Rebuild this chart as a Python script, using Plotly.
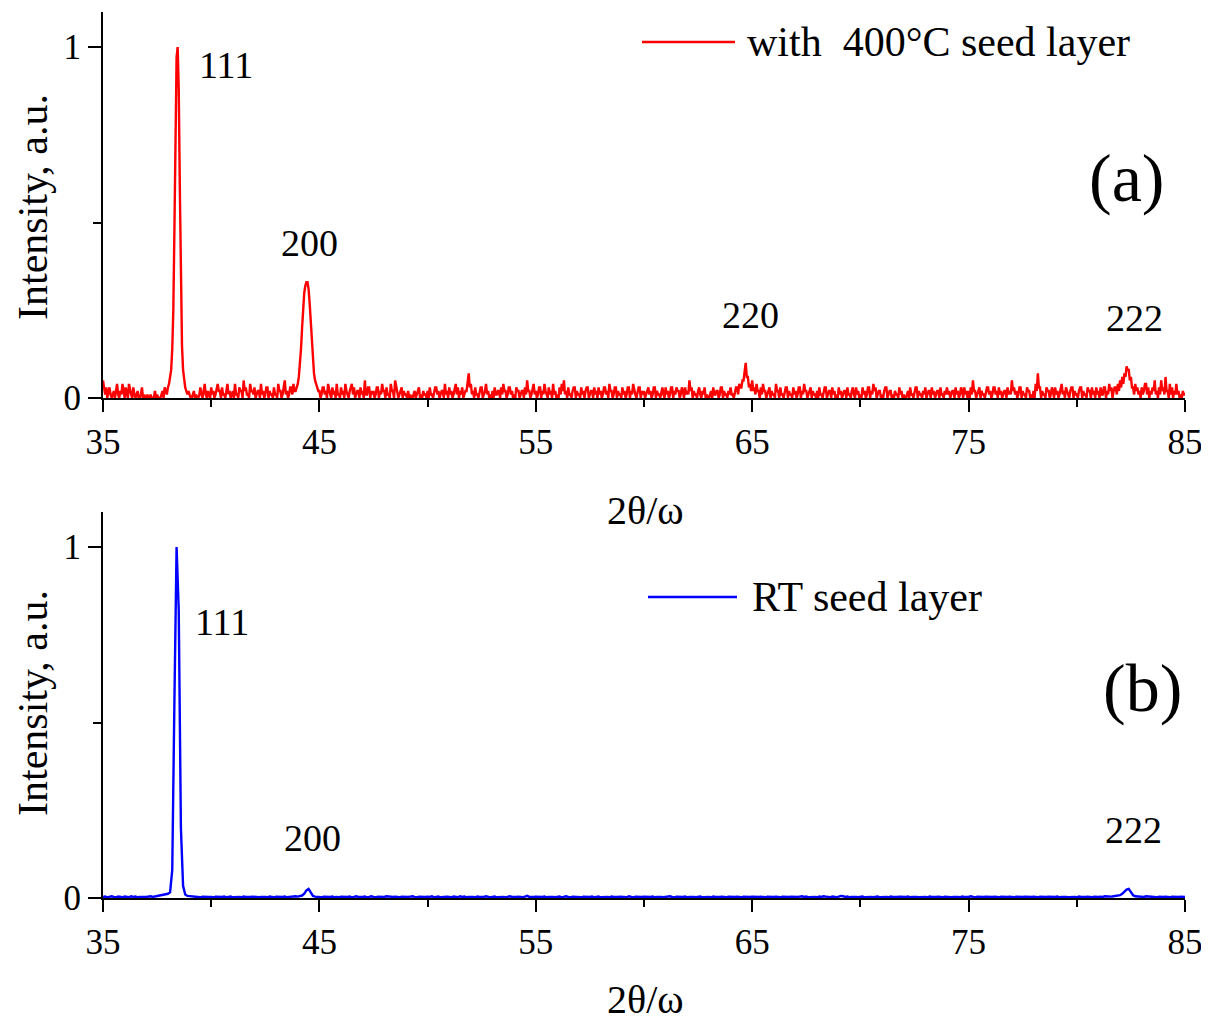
import numpy as np
import plotly.graph_objects as go
from plotly.subplots import make_subplots

# ---------------- data ----------------
# (a) with 400 C seed layer: scan 35.00-85.00 deg, step 0.05 deg,
# normalised intensity in hundredths (one row = one degree, 20 points)
RED_START, RED_STEP = 35.0, 0.05
red_intensity_pct = [
    5, 2, 1, 3, 0, 2, 3, 1, 0, 1, 2, 0, 3, 4, 1, 0, 2, 1, 4, 1,          # 35
    0, 3, 1, 0, 4, 2, 1, 0, 3, 1, 0, 1, 2, 0, 0, 1, 3, 0, 1, 0,          # 36
    0, 1, 0, 0, 1, 0, 0, 0, 2, 0, 1, 0, 0, 0, 1, 2, 0, 3, 2, 1,          # 37
    3, 4, 6, 8, 14, 25, 48, 78, 97, 100, 88, 60, 32, 15, 8, 5, 3, 2, 1, 2,  # 38
    1, 0, 0, 1, 2, 0, 1, 0, 0, 1, 3, 1, 0, 2, 4, 1, 0, 2, 1, 0,          # 39
    3, 1, 2, 0, 1, 3, 4, 2, 2, 0, 3, 1, 1, 0, 3, 4, 1, 2, 0, 1,          # 40
    2, 0, 4, 1, 1, 0, 3, 2, 2, 0, 5, 2, 3, 1, 1, 0, 4, 2, 2, 1,          # 41
    3, 0, 1, 2, 2, 0, 4, 1, 2, 0, 1, 3, 3, 0, 2, 1, 1, 0, 3, 1,          # 42
    1, 0, 4, 2, 2, 0, 1, 3, 5, 1, 2, 0, 1, 3, 3, 1, 4, 2, 2, 3,          # 43
    4, 6, 9, 14, 20, 26, 30, 32, 33, 33, 31, 27, 21, 15, 10, 7, 5, 4, 3, 2,  # 44
    2, 0, 1, 3, 3, 1, 2, 0, 4, 2, 1, 0, 3, 1, 2, 0, 4, 1, 1, 0,          # 45
    3, 1, 2, 0, 4, 2, 1, 0, 2, 3, 4, 1, 3, 0, 1, 2, 2, 0, 3, 1,          # 46
    2, 0, 5, 1, 1, 3, 3, 0, 2, 1, 2, 0, 1, 3, 3, 0, 2, 1, 4, 2,          # 47
    2, 0, 3, 1, 1, 0, 4, 2, 2, 0, 5, 3, 2, 0, 1, 2, 3, 0, 2, 1,          # 48
    1, 0, 2, 0, 1, 0, 0, 1, 2, 0, 1, 2, 3, 0, 1, 0, 2, 1, 1, 0,          # 49
    2, 0, 3, 1, 1, 0, 2, 3, 3, 1, 2, 0, 1, 2, 2, 0, 4, 1, 2, 0,          # 50
    3, 1, 2, 0, 1, 3, 4, 1, 3, 0, 2, 1, 3, 0, 1, 2, 2, 5, 7, 3,          # 51
    4, 1, 2, 0, 3, 1, 1, 0, 2, 3, 3, 0, 1, 2, 4, 1, 2, 0, 1, 0,          # 52
    2, 0, 3, 1, 1, 2, 2, 0, 3, 1, 4, 2, 2, 0, 1, 3, 3, 1, 2, 0,          # 53
    1, 0, 3, 2, 2, 0, 1, 2, 2, 0, 3, 1, 5, 2, 2, 0, 1, 3, 4, 1,          # 54
    2, 0, 1, 3, 3, 0, 2, 1, 4, 2, 1, 0, 3, 1, 2, 0, 4, 1, 2, 0,          # 55
    1, 0, 3, 1, 4, 2, 5, 1, 2, 0, 3, 1, 1, 0, 2, 3, 3, 0, 2, 1,          # 56
    1, 0, 3, 1, 2, 0, 2, 3, 3, 0, 1, 2, 2, 0, 3, 1, 2, 0, 3, 1,          # 57
    2, 0, 1, 3, 3, 1, 2, 0, 4, 2, 2, 0, 1, 3, 3, 0, 2, 1, 1, 0,          # 58
    3, 1, 2, 0, 1, 3, 3, 0, 2, 1, 4, 2, 1, 0, 2, 3, 3, 0, 2, 1,          # 59
    2, 0, 1, 2, 3, 1, 2, 0, 1, 3, 3, 0, 2, 1, 1, 0, 2, 3, 1, 0,          # 60
    3, 1, 2, 0, 1, 3, 3, 0, 2, 1, 3, 2, 2, 0, 1, 3, 2, 0, 3, 1,          # 61
    2, 1, 5, 2, 3, 0, 2, 1, 1, 0, 2, 3, 1, 0, 2, 1, 3, 0, 1, 0,          # 62
    0, 1, 2, 0, 3, 1, 1, 2, 2, 0, 1, 3, 3, 0, 2, 1, 1, 0, 2, 1,          # 63
    3, 1, 1, 0, 2, 3, 3, 1, 4, 3, 3, 5, 5, 8, 10, 6, 6, 3, 4, 2,         # 64
    5, 2, 3, 1, 4, 2, 2, 0, 3, 1, 4, 2, 2, 0, 1, 2, 3, 0, 2, 1,          # 65
    1, 0, 4, 2, 2, 0, 3, 1, 1, 0, 2, 3, 3, 0, 2, 1, 1, 0, 3, 1,          # 66
    2, 0, 1, 3, 3, 0, 2, 1, 4, 2, 2, 0, 1, 2, 3, 0, 2, 1, 1, 0,          # 67
    2, 0, 3, 1, 1, 0, 2, 3, 3, 0, 1, 2, 2, 0, 3, 1, 2, 0, 1, 0,          # 68
    3, 1, 2, 0, 1, 2, 2, 0, 3, 1, 1, 0, 2, 3, 1, 0, 3, 1, 2, 0,          # 69
    1, 0, 3, 1, 2, 0, 1, 3, 3, 0, 2, 1, 4, 2, 3, 0, 1, 2, 2, 0,          # 70
    1, 0, 2, 3, 3, 0, 1, 2, 2, 0, 1, 0, 2, 1, 1, 0, 3, 1, 2, 0,          # 71
    1, 0, 0, 1, 2, 0, 3, 1, 1, 0, 2, 3, 3, 0, 2, 1, 1, 0, 2, 1,          # 72
    3, 0, 1, 2, 2, 0, 3, 1, 2, 0, 1, 2, 2, 0, 3, 1, 1, 0, 2, 1,          # 73
    3, 1, 2, 0, 1, 2, 2, 0, 3, 1, 2, 0, 1, 3, 2, 0, 3, 1, 2, 0,          # 74
    2, 0, 3, 1, 5, 2, 2, 0, 1, 2, 3, 0, 2, 1, 1, 0, 2, 3, 3, 1,          # 75
    2, 0, 1, 3, 3, 1, 2, 0, 3, 1, 2, 0, 1, 2, 2, 0, 3, 1, 2, 1,          # 76
    5, 2, 3, 1, 2, 0, 1, 3, 3, 0, 2, 1, 1, 0, 3, 2, 2, 0, 1, 0,          # 77
    2, 0, 4, 2, 7, 3, 3, 0, 2, 1, 1, 0, 3, 2, 2, 0, 1, 3, 2, 0,          # 78
    3, 1, 2, 0, 1, 3, 4, 1, 2, 0, 3, 2, 1, 0, 2, 3, 3, 0, 2, 1,          # 79
    1, 0, 2, 3, 3, 0, 2, 1, 1, 0, 3, 2, 2, 0, 3, 1, 2, 0, 3, 1,          # 80
    2, 0, 3, 1, 1, 3, 3, 0, 2, 1, 4, 2, 3, 0, 2, 3, 3, 1, 4, 2,          # 81
    5, 3, 6, 4, 7, 6, 9, 8, 8, 5, 6, 3, 3, 1, 4, 2, 3, 1, 2, 0,          # 82
    3, 1, 2, 4, 4, 1, 3, 0, 2, 1, 3, 2, 5, 1, 2, 0, 3, 1, 5, 2,          # 83
    3, 1, 6, 2, 2, 0, 4, 1, 3, 0, 2, 1, 4, 1, 2, 0, 1, 0, 2, 1,          # 84
    1,                                                                   # 85
]

# (b) RT seed layer: scan 35.0-85.0 deg, step 0.1 deg,
# normalised intensity in thousandths
BLUE_START, BLUE_STEP = 35.0, 0.1
blue_intensity_milli = [
    3, 4, 2, 3, 5, 3, 2, 4, 3, 2,   4, 3, 2, 5, 3, 4, 2, 3, 4, 3,   # 35-36.9
    3, 4, 5, 3, 4, 5, 6, 7, 8, 10,  12, 16, 80, 560, 1000, 820, 200, 35, 10, 6,   # 37-38.9
    5, 4, 3, 4, 3, 2, 4, 3, 2, 3,   3, 2, 4, 3, 2, 3, 4, 2, 3, 4,   # 39-40.9
    2, 3, 4, 3, 2, 4, 3, 2, 3, 4,   3, 4, 2, 3, 4, 3, 2, 4, 3, 2,   # 41-42.9
    4, 3, 2, 3, 4, 2, 3, 4, 3, 5,   4, 5, 7, 12, 22, 26, 14, 6, 4, 3,   # 43-44.9
    3, 2, 4, 3, 2, 3, 4, 2, 3, 2,   4, 3, 2, 3, 4, 2, 3, 5, 3, 2,   # 45-46.9
    3, 4, 2, 3, 5, 3, 2, 4, 3, 2,   3, 5, 4, 2, 3, 4, 3, 2, 4, 3,   # 47-48.9
    2, 3, 4, 5, 3, 2, 4, 3, 2, 3,   4, 3, 5, 2, 3, 4, 2, 3, 5, 4,   # 49-50.9
    3, 2, 4, 3, 2, 5, 3, 4, 2, 3,   4, 3, 2, 4, 3, 2, 3, 5, 3, 2,   # 51-52.9
    3, 4, 2, 3, 4, 3, 2, 4, 5, 3,   2, 3, 4, 3, 2, 4, 6, 3, 2, 3,   # 53-54.9
    4, 3, 2, 3, 4, 2, 3, 4, 3, 2,   3, 4, 2, 3, 5, 3, 2, 4, 3, 2,   # 55-56.9
    3, 2, 4, 3, 2, 3, 4, 2, 3, 4,   2, 3, 4, 3, 2, 4, 3, 2, 3, 4,   # 57-58.9
    3, 4, 2, 5, 3, 2, 4, 3, 2, 3,   4, 3, 2, 3, 4, 2, 3, 4, 3, 2,   # 59-60.9
    3, 4, 5, 3, 2, 4, 3, 2, 3, 4,   2, 3, 4, 3, 2, 3, 4, 2, 3, 4,   # 61-62.9
    3, 2, 4, 3, 2, 3, 4, 3, 2, 4,   3, 2, 3, 4, 3, 2, 4, 3, 2, 3,   # 63-64.9
    4, 3, 2, 3, 4, 3, 2, 4, 3, 2,   3, 4, 3, 2, 4, 3, 2, 3, 4, 3,   # 65-66.9
    2, 3, 4, 5, 3, 4, 2, 3, 4, 3,   2, 4, 3, 5, 4, 3, 2, 4, 3, 2,   # 67-68.9
    4, 6, 5, 3, 4, 2, 3, 4, 3, 2,   3, 4, 2, 3, 4, 3, 2, 3, 4, 2,   # 69-70.9
    3, 4, 3, 2, 4, 3, 2, 3, 4, 3,   2, 3, 4, 2, 3, 4, 3, 2, 3, 4,   # 71-72.9
    3, 2, 4, 3, 2, 3, 4, 3, 2, 4,   3, 4, 2, 3, 4, 3, 2, 4, 3, 2,   # 73-74.9
    3, 5, 3, 2, 4, 3, 2, 3, 4, 3,   2, 3, 4, 3, 2, 4, 3, 2, 3, 4,   # 75-76.9
    3, 2, 4, 3, 2, 3, 4, 3, 2, 3,   4, 3, 2, 4, 3, 2, 3, 4, 3, 2,   # 77-78.9
    3, 4, 2, 3, 4, 3, 2, 3, 4, 3,   2, 4, 3, 2, 3, 4, 3, 2, 4, 3,   # 79-80.9
    3, 4, 3, 5, 4, 3, 4, 5, 6, 7,   8, 12, 18, 24, 26, 18, 8, 5, 4, 3,   # 81-82.9
    4, 3, 5, 4, 3, 4, 3, 2, 4, 3,   3, 4, 3, 2, 4, 3, 2, 3, 4, 3,   # 83-84.9
    3,                                                              # 85.0
]

x_tick_values = [35, 45, 55, 65, 75, 85]
x_minor_tick_values = [40, 50, 60, 70, 80]
y_tick_values = [0, 1]
y_minor_tick_values = [0.5]
red_series_name = "with\u00a0 400°C seed layer"
blue_series_name = "RT seed layer"
red_peak_labels = ["111", "200", "220", "222"]
blue_peak_labels = ["111", "200", "222"]
panel_labels = ["(a)", "(b)"]
x_title = "2θ/ω"
y_title = "Intensity, a.u."

# ---------------- figure ----------------
red_x = np.round(RED_START + RED_STEP * np.arange(len(red_intensity_pct)), 3)
red_y = np.array(red_intensity_pct) / 100.0
blue_x = np.round(BLUE_START + BLUE_STEP * np.arange(len(blue_intensity_milli)), 3)
blue_y = np.array(blue_intensity_milli) / 1000.0

FONT = "Liberation Serif"
BODY = 8  # default page margin of the html body
W, H = 1209 - BODY, 1024 - BODY
ML, MR, MT, MB = 103 - BODY, 24, 12 - BODY, 126
PW = W - ML - MR
PH = H - MT - MB


def px(x):  # page pixel -> paper fraction
    return (x - BODY - ML) / PW


def py(y):
    return (H - MB - (y - BODY)) / PH


fig = make_subplots(rows=2, cols=1)
fig.add_trace(go.Scatter(x=red_x, y=red_y, mode="lines", name=red_series_name,
                         line=dict(color="#ff0000", width=2.4), showlegend=False), row=1, col=1)
fig.add_trace(go.Scatter(x=blue_x, y=blue_y, mode="lines", name=blue_series_name,
                         line=dict(color="#0000ff", width=2.4), showlegend=False), row=2, col=1)

top_dom = [py(398), 1.0]
bot_dom = [0.0, py(512)]

xcommon = dict(range=[35, 85], tickmode="array", tickvals=x_tick_values,
               ticktext=[str(v) for v in x_tick_values],
               showline=True, linecolor="black", linewidth=2, mirror=False,
               ticks="outside", ticklen=12, tickwidth=2, tickcolor="black",
               minor=dict(tickvals=x_minor_tick_values, ticks="outside", ticklen=7,
                          tickwidth=2, tickcolor="black"),
               showgrid=False, zeroline=False,
               tickfont=dict(family=FONT, size=35, color="black"))
ycommon = dict(range=[0, 1.1], tickmode="array", tickvals=y_tick_values,
               ticktext=[str(v) for v in y_tick_values],
               showline=True, linecolor="black", linewidth=2, mirror=False,
               ticks="outside", ticklen=13, tickwidth=2, tickcolor="black",
               minor=dict(tickvals=y_minor_tick_values, ticks="outside", ticklen=8,
                          tickwidth=2, tickcolor="black"),
               showgrid=False, zeroline=False,
               tickfont=dict(family=FONT, size=35, color="black"))

fig.update_layout(
    xaxis=dict(**xcommon, anchor="y", domain=[0, 1]),
    yaxis=dict(**ycommon, anchor="x", domain=top_dom),
    xaxis2=dict(**xcommon, anchor="y2", domain=[0, 1]),
    yaxis2=dict(**ycommon, anchor="x2", domain=bot_dom),
    width=W, height=H,
    margin=dict(l=ML, r=MR, t=MT, b=MB),
    paper_bgcolor="white", plot_bgcolor="white",
    showlegend=False,
)

annots = []


def txt(text, x, y, size, xanchor="center", textangle=0):
    annots.append(dict(text=text, x=px(x), y=py(y), xref="paper", yref="paper",
                       xanchor=xanchor, yanchor="middle", showarrow=False,
                       textangle=textangle,
                       font=dict(family=FONT, size=size, color="black")))


for lab, (lx, ly) in zip(red_peak_labels, [(226, 65), (309, 243), (750, 315), (1134, 318)]):
    txt(lab, lx, ly, 38)
for lab, (lx, ly) in zip(blue_peak_labels, [(222, 622), (312, 838), (1133, 830)]):
    txt(lab, lx, ly, 38)
txt(panel_labels[0], 1126, 178, 68)
txt(panel_labels[1], 1142, 688, 68)
txt(x_title, 645, 510, 40)
txt(x_title, 645, 999, 40)
txt(y_title, 33, 207, 42, textangle=-90)
txt(y_title, 33, 703, 42, textangle=-90)
txt(red_series_name, 745, 42, 42, xanchor="left")
txt(blue_series_name, 750, 597, 42, xanchor="left")

shapes = [
    dict(type="line", xref="paper", yref="paper", x0=px(642), x1=px(735), y0=py(42), y1=py(42),
         line=dict(color="#ff0000", width=2.4)),
    dict(type="line", xref="paper", yref="paper", x0=px(648), x1=px(737), y0=py(597), y1=py(597),
         line=dict(color="#0000ff", width=2.4)),
]

fig.update_layout(annotations=annots, shapes=shapes)
fig.write_html("out.html")
